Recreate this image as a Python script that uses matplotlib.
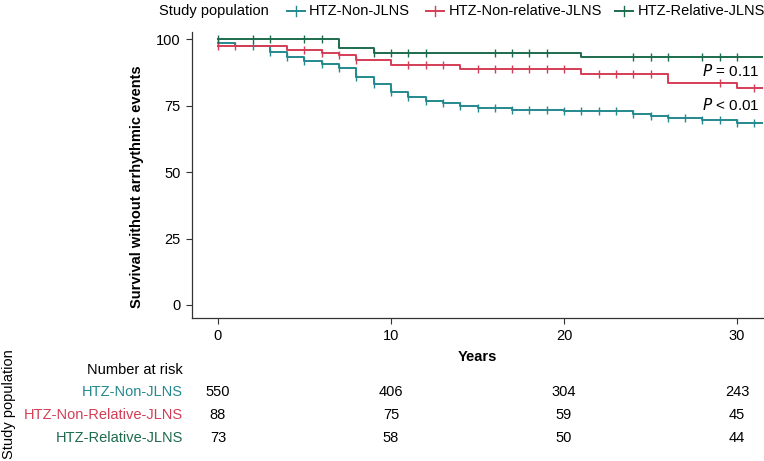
import numpy as np
import matplotlib
matplotlib.use("Agg")
import matplotlib.pyplot as plt
from matplotlib.lines import Line2D
from matplotlib.transforms import blended_transform_factory

plt.rcParams['font.family'] = ['Liberation Sans', 'DejaVu Sans']
plt.rcParams['font.size'] = 10.5

# survival curves (years, % without events)
groups = ['HTZ-Non-JLNS', 'HTZ-Non-relative-JLNS', 'HTZ-Relative-JLNS']
table_names = ['HTZ-Non-JLNS', 'HTZ-Non-Relative-JLNS', 'HTZ-Relative-JLNS']
colors = ['#23898E', '#D43D56', '#1D6B4D']

teal_t = [0, 1, 3, 4, 5, 6, 7, 8, 9, 10, 11, 12, 13, 14, 15, 17, 20, 24, 25, 26, 28, 30]
teal_s = [98.7, 97.4, 95.3, 93.3, 91.8, 90.6, 89.1, 85.7, 83.4, 80.2, 78.5, 76.8,
          76.1, 75.1, 74.2, 73.6, 72.9, 71.8, 71.2, 70.3, 69.7, 68.7]
red_t = [0, 4, 6, 7, 8, 10, 14, 21, 26, 30]
red_s = [97.4, 96.2, 95.0, 94.0, 92.4, 90.2, 88.7, 87.1, 83.5, 81.8]
green_t = [0, 7, 9, 21]
green_s = [100, 96.6, 95.0, 93.3]

teal_cens = [0, 2, 3, 4, 5, 6, 7, 8, 9, 10, 11, 12, 13, 14, 15, 16, 17, 18, 19, 20,
             21, 22, 23, 24, 25, 26, 27, 28, 29, 30, 31]
red_cens = [0, 1, 5, 6, 7, 8, 11, 12, 13, 15, 16, 17, 18, 19, 20, 22, 23, 24, 25, 29, 31]
green_cens = [0, 2, 3, 5, 6, 9, 10, 11, 12, 16, 17, 18, 19, 24, 25, 26, 28, 29, 30]

risk_times = [0, 10, 20, 30]
risk_teal = [550, 406, 304, 243]
risk_red = [88, 75, 59, 45]
risk_green = [73, 58, 50, 44]

t_end = 31.5

W, H = 764, 461
fig = plt.figure(figsize=(W / 100, H / 100), dpi=100)

def fx(px):
    return px / W

def fy(py):
    return 1 - py / H

ax = fig.add_axes([fx(192), fy(318), fx(763) - fx(192), fy(32) - fy(318)])

curves = [(teal_t, teal_s, teal_cens), (red_t, red_s, red_cens), (green_t, green_s, green_cens)]
for (t, s, cens), c in zip(curves, colors):
    tt = np.append(t, t_end)
    ss = np.append(s, s[-1])
    ax.step(tt, ss, where='post', color=c, lw=1.4, zorder=3)
    idx = np.searchsorted(t, cens, side='right') - 1
    ax.plot(cens, np.asarray(s)[idx], ls='none', marker='|', ms=6, mew=1.0, color=c, zorder=4)

ax.set_xlim(-1.5, t_end)
ax.set_ylim(-4.9, 102.8)
ax.set_xticks(risk_times)
ax.set_yticks([0, 25, 50, 75, 100])
for sp in ['top', 'right']:
    ax.spines[sp].set_visible(False)
for sp in ['left', 'bottom']:
    ax.spines[sp].set_linewidth(0.9)
    ax.spines[sp].set_color('#333333')
ax.tick_params(length=4, width=0.8, color='#333333', labelsize=10.5, pad=4)
ax.set_xlabel('Years', fontweight='bold', fontsize=10.5, labelpad=5)
ax.set_ylabel('Survival without arrhythmic events', fontweight='bold', fontsize=10.5)
ax.yaxis.set_label_coords(-0.084, 0.458)

ax.text(31.3, 88.3, r'$P$ = 0.11', ha='right', va='center', fontsize=11)
ax.text(31.3, 75.3, r'$P$ < 0.01', ha='right', va='center', fontsize=11)

# legend along the top
fig.text(fx(159), fy(11), 'Study population', ha='left', va='center')
leg_items = [(296, 309), (435, 449), (624, 638)]
for (mx, tx), c, g in zip(leg_items, colors, groups):
    fig.add_artist(Line2D([fx(mx - 9), fx(mx + 9)], [fy(11), fy(11)], color=c, lw=1.4))
    fig.add_artist(Line2D([fx(mx), fx(mx)], [fy(6), fy(16)], color=c, lw=1.0))
    fig.text(fx(tx), fy(11), g, ha='left', va='center')

# number at risk table
fig.text(fx(183), fy(370), 'Number at risk', ha='right', va='center')
fig.text(fx(9), fy(404), 'Study population', ha='center', va='center', rotation=90)
trans = blended_transform_factory(ax.transData, fig.transFigure)
for row_y, name, c, counts in zip([392, 415, 438], table_names, colors,
                                  [risk_teal, risk_red, risk_green]):
    fig.text(fx(183), fy(row_y), name, ha='right', va='center', color=c)
    for t, n in zip(risk_times, counts):
        ax.text(t, fy(row_y), str(n), transform=trans, ha='center', va='center')

fig.savefig('out.png', dpi=100)
